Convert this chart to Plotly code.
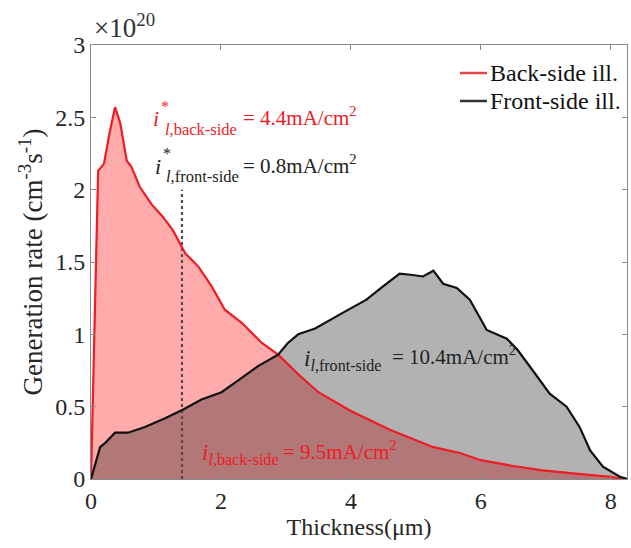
import plotly.graph_objects as go

# Data (y in units of 1e20 cm^-3 s^-1)
back_x = [0.0, 0.11, 0.2, 0.28, 0.37, 0.45, 0.55, 0.62, 0.75, 0.93, 1.11, 1.26, 1.45, 1.65, 1.86,
          2.06, 2.32, 2.63, 2.88, 3.2, 3.5, 4.0, 4.6, 5.27, 5.68, 6.0, 6.5, 6.95, 7.5, 8.0, 8.2]
back_y = [0.0, 2.13, 2.18, 2.38, 2.57, 2.46, 2.20, 2.16, 2.02, 1.90, 1.81, 1.72, 1.56, 1.47, 1.33,
          1.17, 1.08, 0.94, 0.86, 0.72, 0.60, 0.47, 0.34, 0.22, 0.18, 0.13, 0.09, 0.06, 0.035, 0.015, 0.0]

front_x = [0.0, 0.07, 0.14, 0.22, 0.37, 0.57, 0.83, 1.14, 1.42, 1.70, 2.01, 2.26, 2.57, 2.88, 3.03,
           3.19, 3.45, 3.88, 4.24, 4.49, 4.75, 4.95, 5.11, 5.27, 5.42, 5.63, 5.83, 5.98, 6.09, 6.4,
           6.57, 6.8, 7.06, 7.32, 7.52, 7.68, 7.88, 8.14, 8.25]
front_y = [0.0, 0.12, 0.22, 0.25, 0.32, 0.32, 0.36, 0.42, 0.48, 0.55, 0.60, 0.68, 0.78, 0.86, 0.94,
           1.00, 1.04, 1.15, 1.24, 1.33, 1.42, 1.41, 1.40, 1.44, 1.35, 1.32, 1.24, 1.12, 1.03, 0.97,
           0.89, 0.75, 0.59, 0.50, 0.36, 0.20, 0.085, 0.016, 0.0]

series_names = ["Back-side ill.", "Front-side ill."]
marker_x = [1.4, 1.4]
marker_y = [0.0, 2.0]

xticks = [0, 2, 4, 6, 8]
yticks = [0, 0.5, 1, 1.5, 2, 2.5, 3]

RED = "#EE1C25"
BLACK = "#111111"
DARK = "#222222"
FONT = "Liberation Serif"

fig = go.Figure()
# fills
fig.add_trace(go.Scatter(x=back_x, y=back_y, fill="tozeroy", mode="none",
                         fillcolor="rgba(255,0,0,0.33)", showlegend=False, hoverinfo="skip"))
fig.add_trace(go.Scatter(x=front_x, y=front_y, fill="tozeroy", mode="none",
                         fillcolor="rgba(0,0,0,0.30)", showlegend=False, hoverinfo="skip"))
# dotted marker line
fig.add_trace(go.Scatter(x=marker_x, y=marker_y, mode="lines",
                         line=dict(color="#5a4a4a", width=2.2, dash="dot"), showlegend=False))
# lines
fig.add_trace(go.Scatter(x=back_x, y=back_y, mode="lines", name=series_names[0],
                         line=dict(color=RED, width=2.2), showlegend=False))
fig.add_trace(go.Scatter(x=front_x, y=front_y, mode="lines", name=series_names[1],
                         line=dict(color=BLACK, width=2.2), showlegend=False))

L, T, PW, PH = 91, 45, 536, 434
def px2x(px):
    return (px - L) / 65.0
def py2y(py):
    return (479 - py) / 144.7
def px2p(px):
    return (px - L) / PW
def py2p(py):
    return (479 - py) / PH

annots = []
def add(text, px, py, size, color, xanchor="left"):
    annots.append(dict(text=text, x=px2x(px), y=py2y(py), xref="x", yref="y",
                       xanchor=xanchor, yanchor="middle", showarrow=False,
                       font=dict(family=FONT, size=size, color=color)))

# line 1
add("<i>i</i>", 151, 118, 22, RED)
add("*", 159, 106, 16, RED)
add("<i>l</i>,back-side", 163, 129, 16.5, RED)
add("= 4.4mA/cm<sup>2</sup>", 241, 116, 21, RED)
# line 2
add("<i>i</i>", 153, 166, 22, DARK)
add("*", 161, 153, 16, DARK)
add("<i>l</i>,front-side", 164, 176, 16.5, DARK)
add("= 0.8mA/cm<sup>2</sup>", 241, 164, 21, DARK)
# line 3
add("<i>i</i><sub><i>l</i>,front-side</sub>", 302, 360, 23, DARK)
add("= 10.4mA/cm<sup>2</sup>", 390, 355, 21, DARK)
# line 4
add("<i>i</i><sub><i>l</i>,back-side</sub>", 200, 454, 23, RED)
add("= 9.5mA/cm<sup>2</sup>", 281, 450, 21, RED)

# exponent label
annots.append(dict(text="×10<sup>20</sup>", x=px2p(92), y=py2p(38), xref="paper", yref="paper",
                   xanchor="left", yanchor="bottom", showarrow=False, yshift=-7,
                   font=dict(family=FONT, size=27, color="#333333")))

# manual legend (text + sample lines)
legend_colors = ["#E04848", "#333333"]
legend_py = [73, 101]
shapes = []
for name, col, py in zip(series_names, legend_colors, legend_py):
    annots.append(dict(text=name, x=px2p(488), y=py2p(py), xref="paper", yref="paper",
                       xanchor="left", yanchor="middle", showarrow=False,
                       font=dict(family=FONT, size=24, color=BLACK)))
    shapes.append(dict(type="line", xref="paper", yref="paper",
                       x0=px2p(460), x1=px2p(487), y0=py2p(py), y1=py2p(py),
                       line=dict(color=col, width=2.5)))

axis_common = dict(showline=True, linecolor="#8a8a8a", linewidth=1, mirror="ticks",
                   ticks="inside", ticklen=5, tickcolor="#8a8a8a", showgrid=False,
                   zeroline=False, tickfont=dict(family=FONT, size=24, color="#262626"))

fig.update_layout(
    width=631, height=548,
    margin=dict(l=L, r=631 - L - PW, t=T, b=548 - T - PH),
    paper_bgcolor="white", plot_bgcolor="white",
    xaxis=dict(range=[0, 8.25], tickvals=xticks, **axis_common,
               title=dict(text="Thickness(μm)", font=dict(family=FONT, size=24, color="#262626"),
                          standoff=4)),
    yaxis=dict(range=[0, 3], tickvals=yticks, **axis_common,
               title=dict(text="Generation rate (cm<sup>-3</sup>s<sup>-1</sup>)",
                          font=dict(family=FONT, size=27, color="#262626"), standoff=4)),
    annotations=annots,
    shapes=shapes,
    showlegend=False,
)

fig.write_html("out.html")
